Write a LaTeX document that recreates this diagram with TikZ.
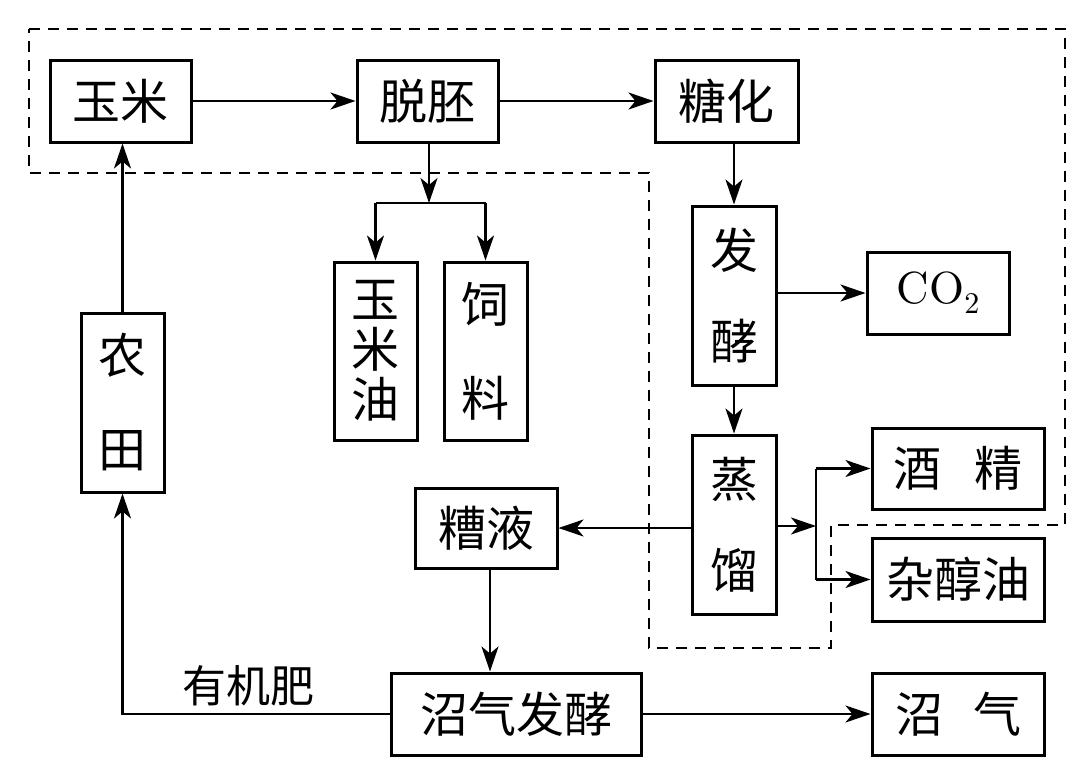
\documentclass[tikz,border=0pt]{standalone}
\usepackage{fontspec}
\newfontfamily\cjk{Noto Sans CJK SC}
\newfontfamily\cofont[Extension=.otf]{lmroman10-regular}
\usetikzlibrary{arrows.meta}
\begin{document}
\begin{tikzpicture}[x=1pt,y=-1pt,
  box/.style={draw, line width=3pt, inner sep=0pt, align=center, font=\cjk\fontsize{48}{50}\selectfont},
  arr/.style={line width=2.6pt, -{Stealth[length=25pt,width=17pt,inset=7pt]}},
  ln/.style={line width=2.6pt},
  dsh/.style={line width=2.6pt, dash pattern=on 11pt off 8pt},
  lbl/.style={font=\cjk\fontsize{44}{48}\selectfont, inner sep=0pt}]
\useasboundingbox (0,0) rectangle (1080,780);
\fill[white] (0,0) rectangle (1080,780);
% dashed outline
\draw[dsh] (29,29) -- (1065,29) -- (1065,525) -- (831,525) -- (831,648) -- (649,648) -- (649,173) -- (29,173) -- cycle;
% nodes
\node[box, minimum width=141pt, minimum height=82pt] (yumi) at (120.5,101) {玉米};
\node[box, minimum width=141pt, minimum height=82pt] (tuopei) at (427.5,101) {脱胚};
\node[box, minimum width=143pt, minimum height=82pt] (tanghua) at (726.5,101) {糖化};
\node[box, minimum width=84pt, minimum height=179pt] (fajiao) at (734,295.5) {发\\[41pt]酵};
\node[box, minimum width=142pt, minimum height=82pt, font=\cofont\fontsize{45}{50}\selectfont] (co2) at (938,293) {CO\raisebox{-0.22em}{\fontsize{30}{32}\selectfont 2}};
\node[box, minimum width=83pt, minimum height=178pt] (ymy) at (375.5,351) {玉\\米\\油};
\node[box, minimum width=83pt, minimum height=178pt] (sl) at (485.5,351) {饲\\[44pt]料};
\node[box, minimum width=83pt, minimum height=179pt] (nt) at (122.5,402.5) {农\\[44pt]田};
\node[box, minimum width=84pt, minimum height=179pt] (zl) at (734,524.5) {蒸\\[41pt]馏};
\node[box, minimum width=172pt, minimum height=81pt] (jj) at (958,468.5) {酒\hspace{33pt}精};
\node[box, minimum width=172pt, minimum height=83pt] (zcy) at (958,579.5) {杂醇油};
\node[box, minimum width=142pt, minimum height=80pt] (zy) at (486,528) {糟液};
\node[box, minimum width=250pt, minimum height=82pt] (zqfj) at (516,714) {沼气发酵};
\node[box, minimum width=172pt, minimum height=82pt] (zq) at (958,714) {沼\hspace{30pt}气};
\node[lbl] (yjf) at (248,686) {有机肥};
% connectors
\coordinate (bp) at (429,203);
\coordinate (br) at (816,526);
\draw[arr] (yumi.east) -- (tuopei.west);
\draw[arr] (tuopei.east) -- (tanghua.west);
\draw[arr] (fajiao.north |- tanghua.south) -- (fajiao.north);
\draw[arr] (fajiao.east |- co2.west) -- (co2.west);
\draw[arr] (fajiao.south) -- (zl.north);
\draw[arr] (tuopei.south -| bp) -- (bp);
\draw[ln] (ymy.north |- bp) -- (sl.north |- bp);
\draw[arr] (ymy.north |- bp) -- (ymy.north);
\draw[arr] (sl.north |- bp) -- (sl.north);
\draw[arr] (zl.east |- br) -- (br);
\draw[ln] (br |- jj.west) -- (br |- zcy.west);
\draw[arr] (br |- jj.west) -- (jj.west);
\draw[arr] (br |- zcy.west) -- (zcy.west);
\draw[arr] (zl.west |- zy.east) -- (zy.east);
\draw[arr] (zy.south -| 490,0) -- (zqfj.north -| 490,0);
\draw[arr] (zqfj.east) -- (zq.west);
\draw[arr] (zqfj.west) -- (nt.south |- zqfj.west) -- (nt.south);
\draw[arr] (nt.north) -- (nt.north |- yumi.south);
\end{tikzpicture}
\end{document}
